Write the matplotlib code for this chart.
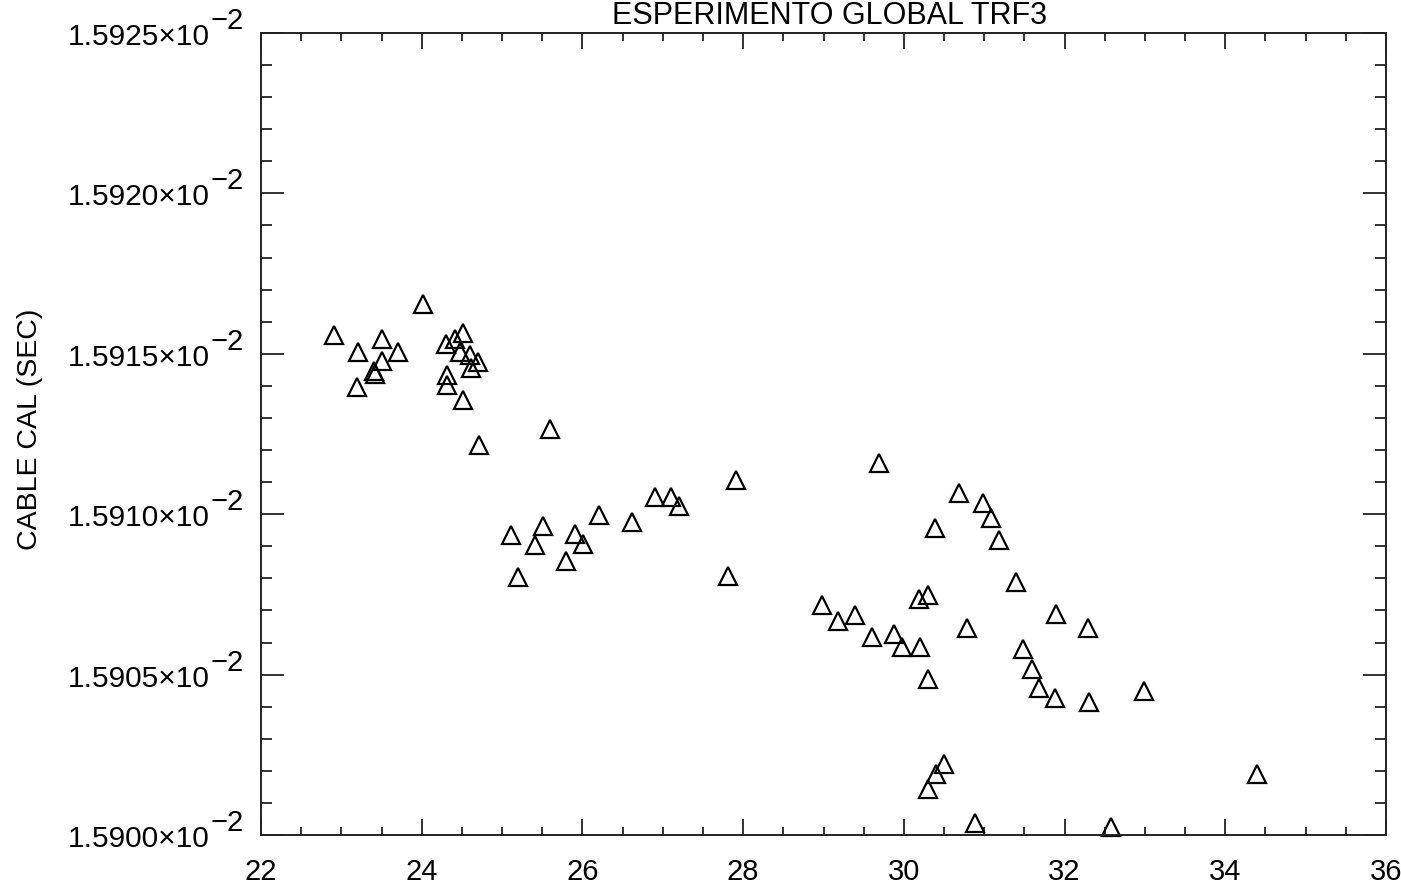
import numpy as np
import matplotlib
matplotlib.use('Agg')
import matplotlib.pyplot as plt
from matplotlib.ticker import MultipleLocator

# Fonts: Liberation first, DejaVu as fall back
plt.rcParams['font.family'] = ['Liberation Sans', 'DejaVu Sans']

# Data (cable cal in units of 1e-2 sec)
x_vals = [22.91, 24.01, 23.21, 23.50, 23.71, 23.51, 23.41, 23.42, 23.20, 24.30,
          24.42, 24.51, 24.48, 24.60, 24.70, 24.61, 24.31, 24.31, 24.51, 24.71,
          25.60, 25.11, 25.51, 25.41, 25.20, 25.91, 26.01, 25.80, 26.20, 26.62,
          26.90, 27.10, 27.20, 27.91, 27.81, 29.69, 30.69, 30.98, 31.09, 30.39,
          31.18, 31.39, 31.89, 28.98, 29.18, 29.39, 29.60, 30.19, 30.30, 29.88,
          29.98, 30.20, 30.79, 30.30, 31.48, 31.59, 31.68, 31.88, 30.50, 30.40,
          30.30, 32.29, 32.30, 32.99, 34.39, 30.89, 32.58]
cable_cal = [1.591557, 1.591656, 1.591504, 1.591546, 1.591506, 1.591477, 1.591446, 1.591436, 1.591395, 1.591529,
             1.591545, 1.591564, 1.591504, 1.591495, 1.591474, 1.591455, 1.591435, 1.591404, 1.591355, 1.591215,
             1.591264, 1.590935, 1.590964, 1.590904, 1.590804, 1.590937, 1.590906, 1.590855, 1.590997, 1.590976,
             1.591054, 1.591055, 1.591027, 1.591107, 1.590807, 1.591158, 1.591067, 1.591036, 1.590987, 1.590957,
             1.590918, 1.590788, 1.590689, 1.590716, 1.590667, 1.590686, 1.590618, 1.590735, 1.590748, 1.590625,
             1.590585, 1.590585, 1.590646, 1.590485, 1.590579, 1.590517, 1.590458, 1.590427, 1.590221, 1.590189,
             1.590142, 1.590646, 1.590415, 1.590448, 1.590190, 1.590037, 1.590026]

x_ticks = [22, 24, 26, 28, 30, 32, 34, 36]
y_ticks = [1.5900, 1.5905, 1.5910, 1.5915, 1.5920, 1.5925]

title = "ESPERIMENTO GLOBAL TRF3"
y_lbl = "CABLE CAL (SEC)"

fig = plt.figure(figsize=(14.01, 8.87), dpi=100)
ax = fig.add_axes([0.1863, 0.0575, 0.8030, 0.9042])

y = np.array(cable_cal) * 1e-2
ax.plot(x_vals, y, linestyle='none', marker='^', ms=12.5, mfc='none',
        mec='black', mew=1.6, clip_on=False)

ax.set_xlim(22, 36)
ax.set_ylim(0.015900, 0.015925)

ax.set_xticks(x_ticks)
ax.set_xticklabels([str(t) for t in x_ticks])
ax.xaxis.set_minor_locator(MultipleLocator(0.5))
ax.set_yticks(np.array(y_ticks) * 1e-2)
ax.set_yticklabels(['%.4f×10' % v for v in y_ticks])
ax.yaxis.set_minor_locator(MultipleLocator(1e-6))

ax.tick_params(which='both', direction='in', top=True, right=True, width=1.3, color='#222222')
ax.tick_params(axis='x', which='major', length=11.5, pad=16, labelsize=21)
ax.tick_params(axis='x', which='minor', length=6)
ax.tick_params(axis='y', which='major', length=16.5, pad=37, labelsize=21.5)
ax.tick_params(axis='y', which='minor', length=8)
for s in ax.spines.values():
    s.set_linewidth(1.4)
    s.set_color('#222222')

# exponent of the y labels, drawn full size as on the original
for v in y_ticks:
    ax.annotate('\u22122', xy=(0, v * 1e-2), xycoords=('axes fraction', 'data'),
                xytext=(-50, 13), textcoords='offset pixels', ha='left', va='center',
                fontsize=21, annotation_clip=False)

fig.text(30 / 1401, 1 - 429 / 887, y_lbl, rotation=90, ha='center', va='center', fontsize=20.5)
fig.text(830 / 1401, 1 - 24 / 887, title, ha='center', va='baseline', fontsize=22)

fig.savefig('out.png', dpi=100)
